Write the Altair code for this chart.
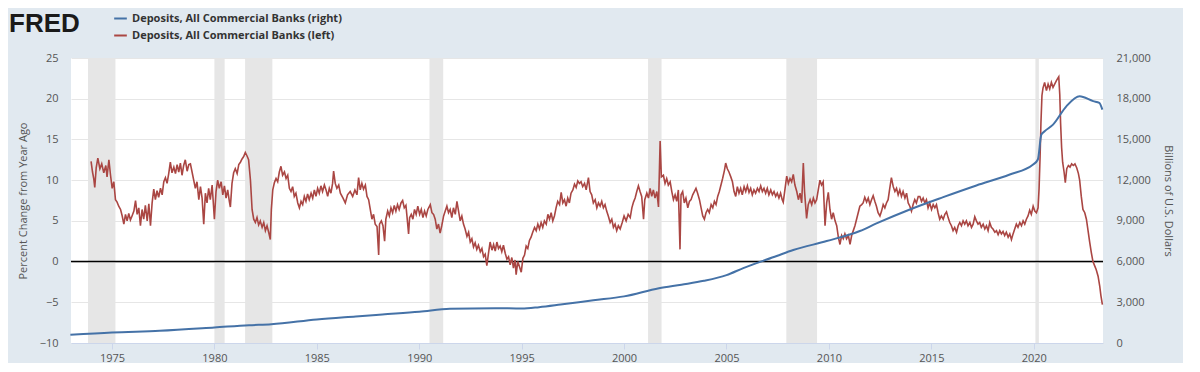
import altair as alt
import pandas as pd

LBL_R = "Deposits, All Commercial Banks (right)"
LBL_L = "Deposits, All Commercial Banks (left)"

# Percent change from year ago (left axis), (decimal year, value)
red_a = [
    (1973.98, 12.3), (1974.05, 11.0), (1974.11, 10.2), (1974.16, 9.1), (1974.23, 11.5),
    (1974.31, 12.7), (1974.41, 11.4), (1974.50, 12.0), (1974.60, 10.9), (1974.70, 11.8),
    (1974.76, 10.4), (1974.85, 12.5), (1974.93, 10.6), (1975.01, 9.0), (1975.09, 9.8),
    (1975.17, 7.6), (1975.25, 7.3), (1975.33, 6.8), (1975.42, 6.4), (1975.50, 5.6),
    (1975.58, 4.6), (1975.66, 5.8), (1975.74, 5.0), (1975.82, 5.9), (1975.90, 5.1),
    (1975.98, 5.6), (1976.07, 6.2), (1976.15, 7.5), (1976.23, 5.8), (1976.31, 6.6),
    (1976.39, 4.4), (1976.47, 6.4), (1976.55, 5.2), (1976.63, 6.9), (1976.72, 5.0),
    (1976.80, 7.1), (1976.88, 4.4), (1976.96, 7.2), (1977.04, 8.9), (1977.12, 7.6),
    (1977.20, 8.7), (1977.28, 7.9), (1977.37, 9.0), (1977.45, 8.2), (1977.53, 9.8),
    (1977.61, 10.3), (1977.69, 9.6), (1977.77, 10.8), (1977.85, 12.2), (1977.93, 10.9),
    (1978.02, 11.6), (1978.10, 10.8), (1978.18, 11.9), (1978.26, 11.0), (1978.34, 12.1),
    (1978.42, 10.6), (1978.50, 11.8), (1978.58, 12.5), (1978.67, 11.1), (1978.75, 11.9),
    (1978.83, 12.0), (1978.91, 11.0), (1978.99, 10.0), (1979.07, 9.0), (1979.15, 9.8),
    (1979.24, 7.6), (1979.32, 9.2), (1979.40, 7.8), (1979.48, 4.6), (1979.56, 8.4),
    (1979.64, 7.2), (1979.72, 9.0), (1979.80, 7.6), (1979.89, 9.4), (1980.00, 5.2),
    (1980.08, 8.6), (1980.16, 10.0), (1980.24, 9.0), (1980.33, 9.8), (1980.41, 8.2),
    (1980.49, 9.3), (1980.57, 7.8), (1980.65, 8.8), (1980.73, 7.4), (1980.78, 6.7),
    (1980.86, 9.6), (1980.94, 10.9), (1981.02, 11.4), (1981.11, 10.8), (1981.19, 11.9),
    (1981.27, 12.2), (1981.35, 12.6), (1981.43, 12.9), (1981.51, 13.4), (1981.59, 13.0),
    (1981.67, 12.5), (1981.76, 10.0), (1981.84, 6.4), (1981.92, 5.2), (1982.00, 4.8),
    (1982.08, 5.4), (1982.16, 4.5), (1982.24, 5.0), (1982.33, 4.2), (1982.41, 4.8),
    (1982.49, 3.8), (1982.57, 4.4), (1982.65, 3.6), (1982.73, 2.7), (1982.78, 6.4),
    (1982.85, 8.8), (1982.93, 9.7), (1983.01, 10.2), (1983.09, 9.8), (1983.17, 11.0),
    (1983.25, 11.7), (1983.33, 10.6), (1983.42, 11.0), (1983.50, 10.2), (1983.58, 10.6),
    (1983.66, 9.0), (1983.74, 8.6), (1983.82, 9.2), (1983.90, 8.0), (1983.98, 8.4),
    (1984.07, 7.2), (1984.15, 6.6), (1984.23, 7.4), (1984.31, 7.0), (1984.39, 8.0),
    (1984.47, 7.4), (1984.55, 8.3), (1984.63, 7.6), (1984.72, 8.4), (1984.80, 7.8),
    (1984.88, 8.8), (1984.96, 8.0), (1985.04, 9.0), (1985.12, 8.4), (1985.20, 9.3),
    (1985.28, 8.6), (1985.37, 9.4), (1985.45, 8.8), (1985.53, 8.0), (1985.61, 9.0),
    (1985.69, 8.4), (1985.77, 9.6), (1985.82, 11.1), (1985.90, 9.6), (1985.98, 9.0),
    (1986.07, 9.4),
]
red_b = [
    (1986.15, 8.4), (1986.28, 7.8), (1986.39, 7.2), (1986.50, 8.2), (1986.63, 8.6),
    (1986.75, 8.0), (1986.86, 8.8), (1986.96, 8.2), (1987.04, 10.3), (1987.12, 8.8),
    (1987.20, 9.6), (1987.28, 8.9), (1987.37, 9.4), (1987.45, 8.0), (1987.53, 7.6),
    (1987.61, 6.4), (1987.69, 5.2), (1987.77, 5.8), (1987.85, 4.6), (1987.94, 4.3),
    (1988.02, 0.8), (1988.06, 4.6), (1988.15, 5.0), (1988.23, 4.4), (1988.31, 2.5),
    (1988.37, 5.2), (1988.46, 6.2), (1988.54, 5.6), (1988.62, 6.6), (1988.70, 6.0),
    (1988.78, 6.9), (1988.86, 6.2), (1988.94, 7.0), (1989.02, 6.4), (1989.11, 7.2),
    (1989.19, 7.5), (1989.27, 6.6), (1989.35, 6.9), (1989.40, 5.6), (1989.48, 3.4),
    (1989.53, 5.4), (1989.61, 5.8), (1989.69, 5.2), (1989.77, 6.4), (1989.85, 5.8),
    (1989.93, 6.8), (1990.02, 5.8), (1990.10, 6.4), (1990.18, 5.4), (1990.26, 6.2),
    (1990.34, 5.6), (1990.42, 6.4), (1990.54, 7.0), (1990.62, 6.0), (1990.70, 5.8),
    (1990.78, 5.2), (1990.86, 4.0), (1990.94, 4.6), (1991.02, 3.5), (1991.10, 4.4),
    (1991.19, 5.6), (1991.27, 6.2), (1991.35, 6.8), (1991.43, 6.0), (1991.51, 6.4),
    (1991.59, 5.4), (1991.67, 6.6), (1991.76, 5.8), (1991.84, 7.4), (1991.92, 6.2),
    (1992.00, 5.0), (1992.08, 5.6), (1992.16, 4.6), (1992.24, 4.0), (1992.33, 3.1),
    (1992.41, 3.6), (1992.49, 2.4), (1992.57, 2.8), (1992.65, 1.8), (1992.73, 2.3),
    (1992.81, 1.5), (1992.89, 2.0), (1992.98, 1.2), (1993.06, 1.6), (1993.14, 0.6),
    (1993.22, 0.9), (1993.30, -0.5), (1993.38, 1.0), (1993.46, 2.4), (1993.55, 1.4),
    (1993.63, 2.1), (1993.71, 1.3), (1993.79, 2.4), (1993.87, 1.6), (1993.95, 1.9),
    (1994.03, 1.2), (1994.11, 2.0), (1994.20, 1.0), (1994.28, 0.3), (1994.36, 0.6),
    (1994.44, -0.4), (1994.52, 0.5), (1994.60, -0.8), (1994.68, 0.2), (1994.73, -1.6),
    (1994.81, 0.0), (1994.89, -0.6), (1994.98, -1.3), (1995.06, 0.4), (1995.14, 0.8),
    (1995.22, 1.9), (1995.30, 1.6), (1995.38, 2.6), (1995.46, 3.0), (1995.54, 3.6),
    (1995.63, 4.2), (1995.71, 3.8), (1995.79, 4.6), (1995.87, 4.0), (1995.95, 4.8),
    (1996.03, 4.2), (1996.11, 5.0), (1996.20, 4.6), (1996.28, 5.8), (1996.36, 5.2),
    (1996.44, 6.0), (1996.52, 5.0), (1996.60, 5.6), (1996.68, 6.6), (1996.76, 7.4),
    (1996.85, 7.0), (1996.93, 8.5), (1997.01, 7.2), (1997.09, 7.6), (1997.17, 6.8),
    (1997.25, 7.8), (1997.33, 7.2), (1997.41, 8.4), (1997.50, 8.8), (1997.58, 9.5),
    (1997.66, 9.1), (1997.74, 9.9), (1997.82, 9.6), (1997.90, 9.8), (1997.98, 9.2),
    (1998.07, 9.6), (1998.15, 8.8), (1998.26, 10.3), (1998.34, 8.6), (1998.42, 8.2),
    (1998.50, 7.2), (1998.59, 7.6), (1998.67, 6.6), (1998.75, 7.2), (1998.83, 6.8),
    (1998.91, 7.4), (1998.99, 6.6), (1999.07, 7.0), (1999.15, 6.2), (1999.23, 5.6),
    (1999.32, 4.8), (1999.40, 5.2), (1999.48, 4.2), (1999.56, 4.6), (1999.64, 3.8),
    (1999.72, 4.4),
]
red_c = [
    (1999.81, 4.0), (1999.91, 4.8), (2000.00, 5.6), (2000.10, 5.0), (2000.20, 5.8),
    (2000.30, 5.4), (2000.38, 6.6), (2000.46, 7.3), (2000.54, 7.8), (2000.62, 8.6),
    (2000.70, 9.3), (2000.78, 8.6), (2000.86, 8.0), (2000.95, 5.2), (2001.01, 7.6),
    (2001.11, 8.4), (2001.19, 7.8), (2001.27, 9.0), (2001.35, 8.0), (2001.43, 8.8),
    (2001.51, 7.8), (2001.60, 8.6), (2001.68, 6.7), (2001.76, 14.8), (2001.82, 10.4),
    (2001.92, 10.6), (2002.00, 9.6), (2002.08, 10.2), (2002.16, 9.4), (2002.25, 9.8),
    (2002.33, 8.6), (2002.41, 7.6), (2002.49, 8.2), (2002.57, 7.4), (2002.65, 8.8),
    (2002.73, 1.5), (2002.78, 8.2), (2002.86, 8.6), (2002.94, 7.2), (2003.02, 7.8),
    (2003.11, 6.6), (2003.19, 7.4), (2003.27, 7.6), (2003.35, 8.2), (2003.43, 8.6),
    (2003.51, 9.0), (2003.59, 8.4), (2003.68, 7.6), (2003.76, 6.6), (2003.84, 5.6),
    (2003.92, 5.2), (2004.00, 6.0), (2004.08, 6.4), (2004.16, 6.0), (2004.25, 7.0),
    (2004.33, 6.6), (2004.41, 7.4), (2004.49, 7.0), (2004.57, 8.0), (2004.65, 8.6),
    (2004.73, 9.4), (2004.81, 10.2), (2004.90, 11.2), (2004.96, 12.1), (2005.04, 11.4),
    (2005.12, 11.0), (2005.21, 10.4), (2005.29, 9.8), (2005.37, 8.6), (2005.45, 8.0),
    (2005.53, 9.2), (2005.61, 8.4), (2005.69, 9.0), (2005.77, 8.2), (2005.86, 9.2),
    (2005.94, 8.6), (2006.02, 9.3), (2006.10, 8.5), (2006.18, 9.0), (2006.26, 8.2),
    (2006.34, 8.8), (2006.42, 8.4), (2006.51, 9.0), (2006.59, 8.6), (2006.67, 9.3),
    (2006.75, 8.6), (2006.83, 9.0), (2006.91, 8.4), (2006.99, 9.0), (2007.07, 8.2),
    (2007.16, 8.8), (2007.24, 8.2), (2007.32, 8.6), (2007.40, 8.0), (2007.48, 8.4),
    (2007.56, 7.8), (2007.64, 8.4), (2007.72, 7.6), (2007.77, 7.3), (2007.86, 9.0),
    (2007.94, 10.5), (2008.02, 9.6), (2008.10, 10.2), (2008.18, 9.8), (2008.26, 10.7),
    (2008.34, 9.4), (2008.43, 8.6), (2008.51, 7.6), (2008.59, 8.4), (2008.67, 7.2),
    (2008.75, 12.1), (2008.81, 8.6), (2008.91, 5.3), (2008.99, 7.0), (2009.08, 7.6),
    (2009.16, 7.0), (2009.24, 7.8), (2009.32, 7.2), (2009.40, 7.6), (2009.48, 8.8),
    (2009.56, 10.0), (2009.64, 9.4), (2009.72, 9.8), (2009.81, 4.4), (2009.89, 7.2),
    (2009.97, 8.5), (2010.05, 6.4), (2010.13, 5.2), (2010.21, 6.0), (2010.30, 5.0),
    (2010.38, 4.4), (2010.46, 3.0), (2010.54, 2.1), (2010.62, 3.2), (2010.70, 2.8),
    (2010.78, 3.4), (2010.86, 2.8), (2010.95, 3.2), (2011.03, 2.1), (2011.11, 3.2),
    (2011.19, 3.8), (2011.27, 4.4), (2011.35, 5.2), (2011.43, 6.0), (2011.51, 6.8),
    (2011.60, 7.0),
]
red_d = [
    (2011.67, 7.2), (2011.75, 7.9), (2011.84, 7.3), (2011.92, 7.8), (2012.00, 7.0),
    (2012.08, 7.6), (2012.16, 8.1), (2012.24, 7.4), (2012.32, 6.8), (2012.40, 6.0),
    (2012.49, 5.6), (2012.57, 6.2), (2012.65, 7.0), (2012.73, 6.6), (2012.81, 7.2),
    (2012.89, 7.6), (2012.97, 9.0), (2013.05, 10.3), (2013.14, 9.2), (2013.22, 8.6),
    (2013.30, 9.0), (2013.38, 8.2), (2013.46, 8.8), (2013.54, 8.0), (2013.62, 8.6),
    (2013.71, 7.8), (2013.79, 8.4), (2013.87, 7.2), (2013.95, 6.8), (2014.03, 6.2),
    (2014.11, 7.0), (2014.19, 7.6), (2014.27, 7.2), (2014.36, 8.0), (2014.44, 8.0),
    (2014.52, 7.4), (2014.60, 7.8), (2014.68, 7.2), (2014.76, 7.6), (2014.84, 6.6),
    (2014.92, 7.2), (2015.01, 6.4), (2015.09, 7.0), (2015.17, 6.6), (2015.25, 7.0),
    (2015.33, 6.0), (2015.41, 5.2), (2015.49, 5.6), (2015.58, 5.2), (2015.66, 5.8),
    (2015.74, 6.1), (2015.82, 5.4), (2015.90, 4.8), (2015.98, 4.4), (2016.06, 3.8),
    (2016.14, 4.2), (2016.23, 3.6), (2016.31, 4.4), (2016.39, 4.8), (2016.47, 4.4),
    (2016.55, 5.0), (2016.63, 4.6), (2016.71, 5.0), (2016.79, 4.4), (2016.88, 4.8),
    (2016.96, 4.2), (2017.04, 4.6), (2017.12, 5.5), (2017.20, 5.0), (2017.28, 4.6),
    (2017.36, 4.8), (2017.44, 4.2), (2017.53, 4.6), (2017.61, 4.0), (2017.69, 4.4),
    (2017.77, 3.8), (2017.85, 4.8), (2017.93, 4.2), (2018.01, 4.0), (2018.10, 3.6),
    (2018.18, 3.8), (2018.26, 3.3), (2018.34, 3.8), (2018.42, 3.4), (2018.50, 3.7),
    (2018.58, 3.2), (2018.66, 3.6), (2018.75, 3.0), (2018.83, 3.4), (2018.91, 2.7),
    (2018.99, 3.4), (2019.07, 4.0), (2019.15, 4.6), (2019.23, 4.2), (2019.32, 4.8),
    (2019.40, 4.4), (2019.48, 5.0), (2019.56, 4.6), (2019.64, 5.2), (2019.72, 5.6),
    (2019.80, 6.3), (2019.88, 5.8), (2019.97, 6.8), (2020.05, 6.2), (2020.13, 6.0),
    (2020.21, 6.6), (2020.26, 9.0), (2020.31, 13.0), (2020.35, 17.0), (2020.40, 20.4),
    (2020.45, 21.3), (2020.53, 22.0), (2020.62, 21.0), (2020.70, 21.8), (2020.78, 21.2),
    (2020.86, 22.0), (2020.94, 21.4), (2021.02, 21.8), (2021.10, 22.2), (2021.17, 22.5),
    (2021.22, 22.7), (2021.27, 20.5), (2021.31, 17.0), (2021.36, 14.0), (2021.41, 12.2),
    (2021.48, 11.0), (2021.54, 9.7), (2021.61, 11.4), (2021.69, 11.8), (2021.77, 11.6),
    (2021.85, 12.0), (2021.93, 11.8), (2022.01, 12.0), (2022.10, 11.5), (2022.18, 10.8),
    (2022.24, 10.0), (2022.32, 8.0), (2022.40, 6.4), (2022.49, 6.0), (2022.57, 5.2),
    (2022.65, 3.8), (2022.73, 2.4), (2022.81, 1.1), (2022.89, 0.0), (2022.97, -0.5),
    (2023.05, -1.0), (2023.14, -1.8), (2023.22, -3.0), (2023.28, -4.2), (2023.35, -5.3),
]

# Deposits level, billions of U.S. dollars (right axis)
blue_years = [1972.97, 1975.0, 1977.33, 1980.0, 1981.69, 1982.78, 1985.0, 1986.9, 1988.2,
              1990.0, 1991.5, 1993.7, 1995.0, 1995.85, 1996.9, 1998.5, 2000.0, 2001.7,
              2002.8, 2003.9, 2005.0, 2005.82, 2007.45, 2008.26, 2009.89, 2011.51,
              2012.32, 2013.95, 2015.58, 2017.2, 2018.83, 2019.97, 2020.2, 2020.37,
              2020.53, 2020.94, 2021.59, 2022.24, 2022.9, 2023.2, 2023.35]
blue_values = [600, 775, 895, 1140, 1310, 1380, 1740, 1960, 2105,
               2300, 2520, 2565, 2540, 2640, 2830, 3145, 3435, 4040,
               4300, 4580, 5000, 5520, 6410, 6850, 7510, 8250,
               8810, 9840, 10750, 11610, 12420, 13150, 13520, 15360,
               15600, 16090, 17440, 18180, 17820, 17700, 17200]

recession_start = [1973.83, 1980.0, 1981.5, 1990.5, 2001.17, 2007.92, 2020.08]
recession_end = [1975.17, 1980.5, 1982.83, 1991.17, 2001.83, 2009.42, 2020.25]

x_ticks = [1975, 1980, 1985, 1990, 1995, 2000, 2005, 2010, 2015, 2020]
left_ticks = [-10, -5, 0, 5, 10, 15, 20, 25]
right_ticks = [0, 3000, 6000, 9000, 12000, 15000, 18000, 21000]

red_df = pd.DataFrame(red_a + red_b + red_c + red_d, columns=["t", "v"])
red_df["series"] = LBL_L
blue_df = pd.DataFrame({"t": blue_years, "d": blue_values, "series": LBL_R})
rec_df = pd.DataFrame({"start": recession_start, "end": recession_end})
zero_df = pd.DataFrame({"z": [0]})
logo_df = pd.DataFrame({"s": ["FRED"]})

FONT = "Open Sans"
TXT = "#555555"

x_scale = alt.Scale(domain=[1973.0, 2023.38], nice=False, zero=False)
x_axis = alt.Axis(values=x_ticks, format="d", title=None, grid=False,
                  labelFontSize=11, labelColor=TXT, tickColor="#ccd6eb",
                  tickSize=6, domainColor="#ccd6eb", labelPadding=3)
left_scale = alt.Scale(domain=[-10, 25], nice=False, zero=False)
left_axis = alt.Axis(values=left_ticks, orient="left", title="Percent Change from Year Ago",
                     grid=True, gridColor="#e6e6e6", ticks=False, domain=False,
                     labelFontSize=11, labelColor=TXT, labelPadding=13,
                     titleFontSize=11, titleColor=TXT, titleFontWeight="normal",
                     titlePadding=11)
right_scale = alt.Scale(domain=[0, 21000], nice=False, zero=True)
right_axis = alt.Axis(values=right_ticks, orient="right", format=",.0f",
                      title="Billions of U.S. Dollars", grid=False, ticks=False,
                      domain=False, labelFontSize=11, labelColor=TXT, labelPadding=13,
                      titleFontSize=11, titleColor=TXT, titleFontWeight="normal",
                      titlePadding=12)

color = alt.Color(
    "series:N",
    scale=alt.Scale(domain=[LBL_R, LBL_L], range=["#4572A7", "#AA4643"]),
    legend=alt.Legend(title=None, orient="none", legendX=42, legendY=-47,
                      symbolType="stroke", symbolStrokeWidth=2, symbolSize=160,
                      labelFontSize=11, labelFontWeight="bold", labelColor="#333333",
                      labelFont=FONT, labelLimit=0, rowPadding=4, padding=0),
)

rec = alt.Chart(rec_df).mark_rect(color="#e6e6e6").encode(
    x=alt.X("start:Q", scale=x_scale, axis=x_axis), x2="end:Q")

zero = alt.Chart(zero_df).mark_rule(color="black", strokeWidth=1.5).encode(
    y=alt.Y("z:Q", scale=left_scale, axis=left_axis))

red = alt.Chart(red_df).mark_line(strokeWidth=1.6).encode(
    x=alt.X("t:Q", scale=x_scale, axis=x_axis),
    y=alt.Y("v:Q", scale=left_scale, axis=left_axis),
    color=color)

left_group = alt.layer(zero, red)

blue = alt.Chart(blue_df).mark_line(strokeWidth=2, interpolate="monotone").encode(
    x=alt.X("t:Q", scale=x_scale, axis=x_axis),
    y=alt.Y("d:Q", scale=right_scale, axis=right_axis),
    color=color)

logo = alt.Chart(logo_df).mark_text(
    font="Liberation Sans", fontSize=26, fontWeight="bold", color="#1a1a1a",
    align="left", baseline="alphabetic").encode(
    text="s:N", x=alt.value(-62), y=alt.value(-26))

chart = alt.layer(rec, left_group, blue, logo).resolve_scale(y="independent").properties(
    width=1032, height=285,
    autosize=alt.AutoSizeParams(type="none"),
    padding={"left": 63, "top": 50, "right": 80, "bottom": 20},
    background="#e1e9f0",
).configure_view(fill="white", stroke=None).configure_axis(
    labelFont=FONT, titleFont=FONT)

chart.save("out.html", embed_options={"renderer": "svg", "actions": False})
